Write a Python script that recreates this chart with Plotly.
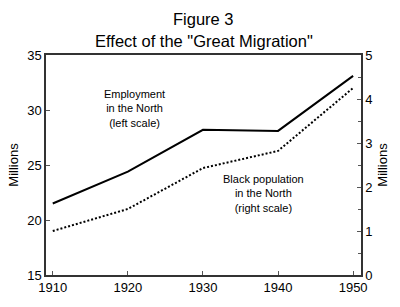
import plotly.graph_objects as go

years = [1910, 1920, 1930, 1940, 1950]
employment = [21.5, 24.4, 28.2, 28.1, 33.1]
black_pop = [1.0, 1.5, 2.43, 2.82, 4.25]

font = "Liberation Sans, Arial, sans-serif"

fig = go.Figure()
fig.add_trace(go.Scatter(x=years, y=employment, mode="lines",
                         line=dict(color="black", width=2), yaxis="y"))
fig.add_trace(go.Scatter(x=years, y=black_pop, mode="lines",
                         line=dict(color="black", width=2, dash="2px,2px"), yaxis="y2"))

axis_common = dict(showgrid=False, zeroline=False, showline=True, linecolor="#333",
                   linewidth=1.5, ticks="inside", ticklen=4, tickcolor="#555",
                   tickfont=dict(family=font, size=13, color="black"))

fig.update_layout(
    width=400, height=307,
    margin=dict(l=44, r=38, t=55, b=32),
    paper_bgcolor="white", plot_bgcolor="white",
    showlegend=False,
    xaxis=dict(range=[1909.1, 1951.05], tickvals=years, mirror=True, **axis_common),
    yaxis=dict(range=[15, 35], dtick=5,
               title=dict(text="Millions", font=dict(family=font, size=13, color="black"), standoff=6),
               **axis_common),
    yaxis2=dict(range=[0, 5], dtick=1, overlaying="y", side="right",
                minor=dict(dtick=0.5, ticks="inside", ticklen=3, tickcolor="#555"),
                title=dict(text="Millions", font=dict(family=font, size=13, color="black"), standoff=6),
                **axis_common),
    annotations=[
        dict(text="Employment<br>in the North<br>(left scale)", x=1920.9, y=30.1, xref="x", yref="y",
             showarrow=False, font=dict(family=font, size=11, color="black"), align="center"),
        dict(text="Black population<br>in the North<br>(right scale)", x=1938, y=1.85, xref="x", yref="y2",
             showarrow=False, font=dict(family=font, size=11, color="black"), align="center"),
        dict(text="Figure 3", x=0.5, y=1.0 + (55 - 19) / 220.0, xref="paper", yref="paper",
             yanchor="middle", showarrow=False, font=dict(family=font, size=16.5, color="black")),
        dict(text='Effect of the "Great Migration"', x=0.5, y=1.0 + (55 - 41) / 220.0,
             xref="paper", yref="paper", yanchor="middle", showarrow=False,
             font=dict(family=font, size=16.5, color="black")),
    ],
)

fig.write_html("out.html")
